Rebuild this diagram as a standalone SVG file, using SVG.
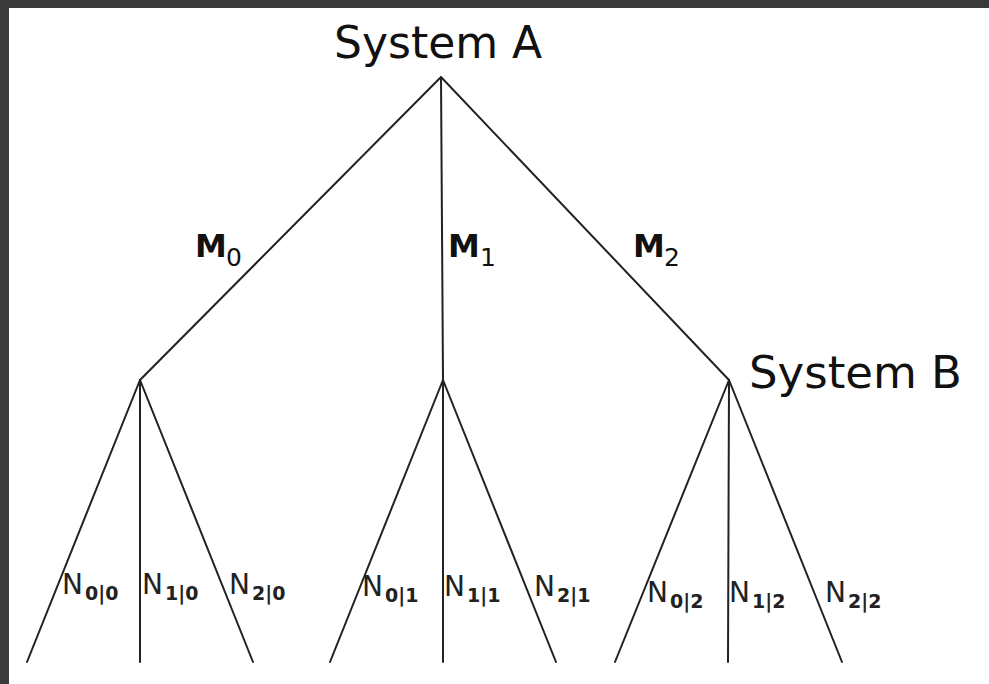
<svg xmlns="http://www.w3.org/2000/svg" width="989" height="684" viewBox="0 0 989 684">
<style>
.ln{stroke:#222;stroke-width:2;fill:none;stroke-linecap:round}
.big{font-family:"DejaVu Sans",sans-serif;font-size:44px;fill:#111}
.m{font-family:"DejaVu Sans",sans-serif;font-size:32px;font-weight:bold;fill:#111}
.ms{font-family:"DejaVu Sans",sans-serif;font-size:25px;fill:#111}
.n{font-family:"DejaVu Sans",sans-serif;font-size:28px;fill:#222}
.ns{font-family:"DejaVu Sans",sans-serif;font-size:19px;font-weight:bold;fill:#222}
</style>
<rect x="0" y="0" width="989" height="684" fill="#3a3a3a"/>
<rect x="9" y="8" width="980" height="676" fill="#fff"/>
<g id="connectors">
<path class="ln" d="M441 77L140 380M441 77L443 380M441 77L729 380"/>
<path class="ln" d="M140 380L27 662M140 380L140 662M140 380L253 662"/>
<path class="ln" d="M443 380L330 662M443 380L443 662M443 380L556 662"/>
<path class="ln" d="M729 380L615 662M729 380L728 662M729 380L842 662"/>
</g>
<g id="systemA"><text class="big" x="334" y="58">System A</text></g>
<g id="systemB"><text class="big" x="749" y="388" style="font-size:45px">System B</text></g>
<g id="M0"><text class="m" x="195" y="257">M</text><text class="ms" x="226" y="266">0</text></g>
<g id="M1"><text class="m" x="448" y="257">M</text><text class="ms" x="480" y="266">1</text></g>
<g id="M2"><text class="m" x="633" y="257">M</text><text class="ms" x="664" y="266">2</text></g>
<g id="N00"><text class="n" x="62" y="594">N</text><text class="ns" x="85" y="600">0|0</text></g>
<g id="N10"><text class="n" x="142" y="594">N</text><text class="ns" x="165" y="600">1|0</text></g>
<g id="N20"><text class="n" x="229" y="594">N</text><text class="ns" x="252" y="600">2|0</text></g>
<g id="N01"><text class="n" x="362" y="596">N</text><text class="ns" x="385" y="602">0|1</text></g>
<g id="N11"><text class="n" x="444" y="596">N</text><text class="ns" x="467" y="602">1|1</text></g>
<g id="N21"><text class="n" x="534" y="596">N</text><text class="ns" x="557" y="602">2|1</text></g>
<g id="N02"><text class="n" x="647" y="602">N</text><text class="ns" x="670" y="608">0|2</text></g>
<g id="N12"><text class="n" x="729" y="602">N</text><text class="ns" x="752" y="608">1|2</text></g>
<g id="N22"><text class="n" x="825" y="602">N</text><text class="ns" x="848" y="608">2|2</text></g>
</svg>
